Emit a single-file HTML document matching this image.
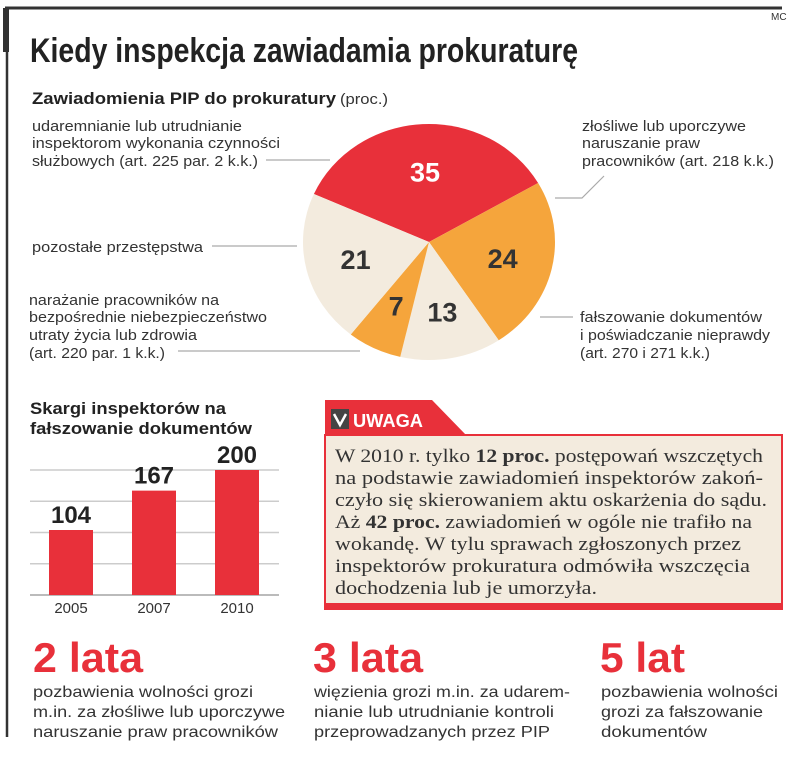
<!DOCTYPE html>
<html><head><meta charset="utf-8"><style>
body{margin:0;background:#fff;}
svg{display:block;font-family:"Liberation Sans",sans-serif;}
</style></head><body>
<svg width="805" height="762" viewBox="0 0 805 762" xmlns="http://www.w3.org/2000/svg">
<rect x="0" y="0" width="805" height="762" fill="#fff"/>
<g>
<line x1="5" y1="8" x2="782" y2="8" stroke="#333" stroke-width="3"/>
<rect x="3" y="8" width="6" height="44" fill="#333"/>
<line x1="7" y1="8" x2="7" y2="737" stroke="#333" stroke-width="2.5"/>
</g>
<text x="771" y="20" font-size="10" fill="#333">MC</text>
<text x="30" y="62" font-size="34" font-weight="bold" fill="#222" textLength="548" lengthAdjust="spacingAndGlyphs">Kiedy inspekcja zawiadamia prokuraturę</text>
<text x="32" y="104" font-size="17" font-weight="bold" fill="#222" textLength="304" lengthAdjust="spacingAndGlyphs">Zawiadomienia PIP do prokuratury</text>
<text x="340" y="104" font-size="15" fill="#333" textLength="48" lengthAdjust="spacingAndGlyphs">(proc.)</text>

<g id="pie"></g>

<g font-size="14.5" fill="#333">
<text x="32" y="131" textLength="210" lengthAdjust="spacingAndGlyphs">udaremnianie lub utrudnianie</text>
<text x="32" y="148" textLength="248" lengthAdjust="spacingAndGlyphs">inspektorom wykonania czynności</text>
<text x="32" y="166" textLength="226" lengthAdjust="spacingAndGlyphs">służbowych (art. 225 par. 2 k.k.)</text>
<text x="582" y="131" textLength="164" lengthAdjust="spacingAndGlyphs">złośliwe lub uporczywe</text>
<text x="582" y="148" textLength="118" lengthAdjust="spacingAndGlyphs">naruszanie praw</text>
<text x="582" y="166" textLength="192" lengthAdjust="spacingAndGlyphs">pracowników (art. 218 k.k.)</text>
<text x="32" y="252" textLength="171" lengthAdjust="spacingAndGlyphs">pozostałe przestępstwa</text>
<text x="29" y="305" textLength="190" lengthAdjust="spacingAndGlyphs">narażanie pracowników na</text>
<text x="29" y="322" textLength="238" lengthAdjust="spacingAndGlyphs">bezpośrednie niebezpieczeństwo</text>
<text x="29" y="340" textLength="168" lengthAdjust="spacingAndGlyphs">utraty życia lub zdrowia</text>
<text x="29" y="358" textLength="136" lengthAdjust="spacingAndGlyphs">(art. 220 par. 1 k.k.)</text>
<text x="580" y="322" textLength="182" lengthAdjust="spacingAndGlyphs">fałszowanie dokumentów</text>
<text x="580" y="340" textLength="190" lengthAdjust="spacingAndGlyphs">i poświadczanie nieprawdy</text>
<text x="580" y="358" textLength="130" lengthAdjust="spacingAndGlyphs">(art. 270 i 271 k.k.)</text>
</g>
<g stroke="#aaa" stroke-width="1.2" fill="none">
<line x1="266" y1="160" x2="330" y2="160"/>
<line x1="212" y1="246" x2="297" y2="246"/>
<line x1="178" y1="351" x2="360" y2="351"/>
<line x1="540" y1="317" x2="573" y2="317"/>
<polyline points="604,176 582,198 555,198"/>
</g>

<text x="30" y="414" font-size="17" font-weight="bold" fill="#222" textLength="196" lengthAdjust="spacingAndGlyphs">Skargi inspektorów na</text>
<text x="30" y="434" font-size="17" font-weight="bold" fill="#222" textLength="222" lengthAdjust="spacingAndGlyphs">fałszowanie dokumentów</text>
<g id="bars"></g>

<g>
<path d="M325 400 L432 400 L466 435 L325 435 Z" fill="#e8303a"/>
<rect x="325" y="435" width="457" height="174" fill="#f3ebde" stroke="#e8303a" stroke-width="2"/>
<rect x="325" y="603" width="457" height="6" fill="#e8303a"/>
<rect x="331" y="409" width="18" height="20" fill="#444"/>
<path d="M334 414 L340 425 L346 414" stroke="#fff" stroke-width="2.5" fill="none"/>
<text x="353" y="427" font-size="18" font-weight="bold" fill="#fff" textLength="70" lengthAdjust="spacingAndGlyphs">UWAGA</text>
<g font-family="Liberation Serif,serif" font-size="19" fill="#333">
<text x="335" y="462" textLength="428" lengthAdjust="spacingAndGlyphs">W 2010 r. tylko <tspan font-weight="bold">12 proc.</tspan> postępowań wszczętych</text>
<text x="335" y="484" textLength="428" lengthAdjust="spacingAndGlyphs">na podstawie zawiadomień inspektorów zakoń-</text>
<text x="335" y="506" textLength="432" lengthAdjust="spacingAndGlyphs">czyło się skierowaniem aktu oskarżenia do sądu.</text>
<text x="335" y="528" textLength="417" lengthAdjust="spacingAndGlyphs">Aż <tspan font-weight="bold">42 proc.</tspan> zawiadomień w ogóle nie trafiło na</text>
<text x="335" y="550" textLength="406" lengthAdjust="spacingAndGlyphs">wokandę. W tylu sprawach zgłoszonych przez</text>
<text x="335" y="572" textLength="415" lengthAdjust="spacingAndGlyphs">inspektorów prokuratura odmówiła wszczęcia</text>
<text x="335" y="594" textLength="262" lengthAdjust="spacingAndGlyphs">dochodzenia lub je umorzyła.</text>
</g>
</g>

<g>
<text x="33" y="672" font-size="42" font-weight="bold" fill="#e8303a" textLength="110" lengthAdjust="spacingAndGlyphs">2 lata</text>
<text x="313" y="672" font-size="42" font-weight="bold" fill="#e8303a" textLength="110" lengthAdjust="spacingAndGlyphs">3 lata</text>
<text x="600" y="672" font-size="42" font-weight="bold" fill="#e8303a" textLength="85" lengthAdjust="spacingAndGlyphs">5 lat</text>
<g font-size="16" fill="#333">
<text x="33" y="697" textLength="220" lengthAdjust="spacingAndGlyphs">pozbawienia wolności grozi</text>
<text x="33" y="717" textLength="252" lengthAdjust="spacingAndGlyphs">m.in. za złośliwe lub uporczywe</text>
<text x="33" y="737" textLength="245" lengthAdjust="spacingAndGlyphs">naruszanie praw pracowników</text>
<text x="314" y="697" textLength="256" lengthAdjust="spacingAndGlyphs">więzienia grozi m.in. za udarem-</text>
<text x="314" y="717" textLength="240" lengthAdjust="spacingAndGlyphs">nianie lub utrudnianie kontroli</text>
<text x="314" y="737" textLength="236" lengthAdjust="spacingAndGlyphs">przeprowadzanych przez PIP</text>
<text x="601" y="697" textLength="177" lengthAdjust="spacingAndGlyphs">pozbawienia wolności</text>
<text x="601" y="717" textLength="162" lengthAdjust="spacingAndGlyphs">grozi za fałszowanie</text>
<text x="601" y="737" textLength="106" lengthAdjust="spacingAndGlyphs">dokumentów</text>
</g>
</g>
</svg>
<script>
const pieValues = [35, 24, 13, 7, 21];
const pieNames = ["udaremnianie", "zlosliwe-naruszanie", "falszowanie", "narazanie", "pozostale"];
const pieColors = ["#e8303a", "#f5a53c", "#f3ebde", "#f5a53c", "#f3ebde"];
const barYears = ["2005", "2007", "2010"];
const barValues = [104, 167, 200];
const gridTicks = [0, 50, 100, 150, 200];

const NS = "http://www.w3.org/2000/svg";
(function(){
  const g = document.getElementById("pie");
  const cx = 429, cy = 242, rx = 126, ry = 118;
  const total = pieValues.reduce((a,b)=>a+b,0);
  let a = -66;
  const pt = (deg, f) => { const r = deg*Math.PI/180; return [cx + rx*f*Math.sin(r), cy - ry*f*Math.cos(r)]; };
  pieValues.forEach((v,i)=>{
    const sweep = v/total*360, a2 = a + sweep;
    const p1 = pt(a,1), p2 = pt(a2,1);
    const path = document.createElementNS(NS,"path");
    path.setAttribute("d", `M${cx},${cy} L${p1[0]},${p1[1]} A${rx},${ry} 0 ${sweep>180?1:0} 1 ${p2[0]},${p2[1]} Z`);
    path.setAttribute("fill", pieColors[i]);
    
    
    g.appendChild(path);
    const mid = a + sweep/2;
    const lp = pt(mid, 0.6);
    const t = document.createElementNS(NS,"text");
    t.setAttribute("x", lp[0]); t.setAttribute("y", lp[1] + 10);
    t.setAttribute("text-anchor","middle");
    t.setAttribute("font-size","27"); t.setAttribute("font-weight","bold");
    t.setAttribute("fill", i===0 ? "#fff" : "#333");
    t.textContent = v;
    
    
    g.appendChild(t);
    a = a2;
  });
})();
(function(){
  const g = document.getElementById("bars");
  const base = 595, top = 470, maxV = 200;
  const y = v => base - (v/maxV)*(base-top);
  const x0 = 49, step = 83, w = 44;
  gridTicks.forEach(t=>{
    const l = document.createElementNS(NS,"line");
    l.setAttribute("x1",30); l.setAttribute("x2",279);
    l.setAttribute("y1",y(t)); l.setAttribute("y2",y(t));
    l.setAttribute("stroke", t===0 ? "#bbb" : "#ccc"); l.setAttribute("stroke-width", t===0?2:1.5);
    
    
    g.appendChild(l);
  });
  barValues.forEach((v,i)=>{
    const x = x0 + i*step;
    const r = document.createElementNS(NS,"rect");
    r.setAttribute("x",x); r.setAttribute("y",y(v)); r.setAttribute("width",w); r.setAttribute("height",base-y(v));
    r.setAttribute("fill","#e8303a");
    
    
    g.appendChild(r);
    const t = document.createElementNS(NS,"text");
    t.setAttribute("x", x+w/2); t.setAttribute("y", y(v)-7);
    t.setAttribute("text-anchor","middle"); t.setAttribute("font-size","24"); t.setAttribute("font-weight","bold"); t.setAttribute("fill","#222");
    t.textContent = v;
    
    
    g.appendChild(t);
    const yl = document.createElementNS(NS,"text");
    yl.setAttribute("x", x+w/2); yl.setAttribute("y", 613);
    yl.setAttribute("text-anchor","middle"); yl.setAttribute("font-size","15"); yl.setAttribute("fill","#333");
    yl.textContent = barYears[i];
    
    
    g.appendChild(yl);
  });
})();
</script>
</body></html>
